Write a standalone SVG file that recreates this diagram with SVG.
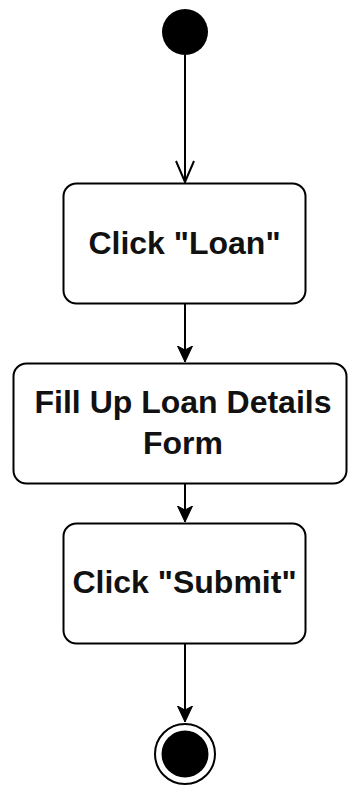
<svg xmlns="http://www.w3.org/2000/svg" width="348" height="785" viewBox="0 0 348 785">
  <style>
    .act { fill: #ffffff; stroke: #000000; stroke-width: 2; }
    .lbl { font-family: "Liberation Sans", Arial, sans-serif; font-weight: bold; font-size: 32px; fill: #111111; text-anchor: middle; }
    .flow { fill: none; stroke: #000000; stroke-width: 2; }
  </style>
  <defs>
    <!-- open V head for the transition out of the initial node -->
    <marker id="open" viewBox="0 0 24 20" refX="22" refY="10" markerWidth="24" markerHeight="20" markerUnits="userSpaceOnUse" orient="auto">
      <path d="M1 1 L22 10 L1 19" fill="none" stroke="#000" stroke-width="2"/>
    </marker>
    <!-- solid notched head for the other transitions -->
    <marker id="filled" viewBox="0 0 16 16" refX="16" refY="8" markerWidth="16" markerHeight="16" markerUnits="userSpaceOnUse" orient="auto">
      <path d="M0 0.5 L4 8 L0 15.5 L16 8 Z" fill="#000" stroke="#000" stroke-width="1"/>
    </marker>
  </defs>

  <g id="connectors">
    <path class="flow" d="M185 55 V182" marker-end="url(#open)"/>
    <path class="flow" d="M185 304 V362" marker-end="url(#filled)"/>
    <path class="flow" d="M185 484 V522" marker-end="url(#filled)"/>
    <path class="flow" d="M185 644 V722" marker-end="url(#filled)"/>
  </g>

  <g id="start">
    <circle cx="185" cy="32" r="23" fill="#000"/>
  </g>

  <g id="click-loan">
    <rect class="act" x="63.5" y="183.5" width="242" height="120" rx="13"/>
    <text class="lbl" x="184.5" y="254">Click "Loan"</text>
  </g>

  <g id="fill-form">
    <rect class="act" x="13.5" y="363.5" width="333" height="120" rx="13"/>
    <text class="lbl" x="183" y="413">Fill Up Loan Details</text>
    <text class="lbl" x="183" y="454">Form</text>
  </g>

  <g id="click-submit">
    <rect class="act" x="63.5" y="523.5" width="242" height="120" rx="13"/>
    <text class="lbl" x="184.5" y="593">Click "Submit"</text>
  </g>

  <g id="end">
    <circle cx="185" cy="754" r="30" fill="#fff" stroke="#000" stroke-width="2"/>
    <circle cx="185" cy="754" r="23.5" fill="#000"/>
  </g>
</svg>
